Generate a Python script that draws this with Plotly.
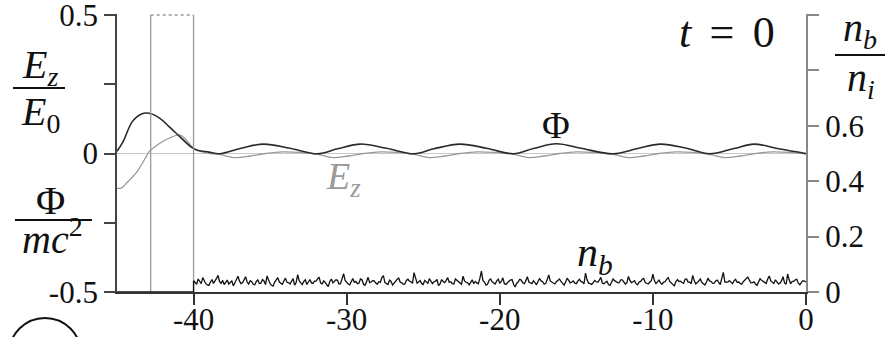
import numpy as np
import plotly.graph_objects as go

# ---- data -------------------------------------------------------------
# electrostatic potential Phi / mc^2 along the box (left axis)
phi_x = [-45.0, -44.6, -44.0, -43.4, -42.9, -42.2, -41.6, -40.9, -40.2, -39.8,
         -39.0, -38.3, -36.9, -35.4, -33.7, -31.9, -30.6, -29.1, -27.4, -25.6,
         -24.3, -22.6, -20.8, -19.1, -17.8, -16.3, -14.7, -12.6, -11.0, -9.5,
         -7.8, -6.3, -4.7, -3.4, -1.7, 0.0]
phi = [0.008, 0.043, 0.115, 0.143, 0.145, 0.127, 0.097, 0.061, 0.025, 0.013,
       0.005, -0.001, 0.019, 0.034, 0.019, -0.001, 0.017, 0.034, 0.019, -0.001,
       0.017, 0.034, 0.018, -0.001, 0.018, 0.035, 0.019, -0.001, 0.018, 0.034,
       0.019, -0.001, 0.018, 0.034, 0.016, 0.000]

# longitudinal field E_z / E_0 (left axis)
ez_x = [-45.0, -44.7, -44.4, -43.7, -43.1, -42.9, -42.2, -41.6, -40.9, -40.5,
        -40.0, -39.5, -38.9,
        -38.3, -37.3, -36.3, -35.3, -34.2, -33.1,
        -31.9, -30.9, -29.9, -28.9, -27.8, -26.7,
        -25.6, -24.6, -23.6, -22.6, -21.5, -20.4,
        -19.1, -18.1, -17.1, -16.1, -15.0, -13.9,
        -12.6, -11.6, -10.6, -9.6, -8.5, -7.4,
        -6.3, -5.3, -4.3, -3.3, -2.2, -1.1, 0.0]
ez = [-0.126, -0.124, -0.108, -0.066, -0.012, 0.007, 0.037, 0.055, 0.067, 0.050,
      0.019, 0.007, 0.000,
      -0.003, -0.015, -0.009, 0.000, 0.006, 0.004,
      -0.003, -0.015, -0.009, 0.000, 0.006, 0.004,
      -0.003, -0.015, -0.009, 0.000, 0.006, 0.004,
      -0.003, -0.015, -0.009, 0.000, 0.006, 0.004,
      -0.003, -0.015, -0.009, 0.000, 0.006, 0.004,
      -0.003, -0.015, -0.009, 0.000, 0.006, 0.004, -0.002]

# beam density n_b / n_i (right axis): empty ahead of x = -40, noisy plateau behind
nb_front_x = [-45.0, -40.0]
nb_front = [0.0, 0.0]
nb_noise = [
    0.041, 0.033, 0.028, 0.047, 0.036, 0.030, 0.052, 0.039, 0.030, 0.026, 0.024, 0.035, 0.045, 0.031, 0.038, 0.049, 0.060, 0.037, 0.031, 0.042,
    0.027, 0.034, 0.043, 0.029, 0.035, 0.040, 0.022, 0.033, 0.048, 0.057, 0.039, 0.030, 0.033, 0.046, 0.055, 0.036, 0.029, 0.041, 0.037, 0.028,
    0.026, 0.038, 0.044, 0.031, 0.032, 0.045, 0.040, 0.027, 0.058, 0.043, 0.030, 0.024, 0.021, 0.036, 0.046, 0.052, 0.036, 0.031, 0.028, 0.040,
    0.050, 0.035, 0.034, 0.029, 0.041, 0.048, 0.025, 0.034, 0.063, 0.041, 0.033, 0.027, 0.038, 0.044, 0.027, 0.036, 0.045, 0.033, 0.031, 0.039,
    0.039, 0.047, 0.054, 0.032, 0.029, 0.040, 0.035, 0.026, 0.020, 0.038, 0.047, 0.033, 0.037, 0.044, 0.042, 0.029, 0.030, 0.051, 0.066, 0.042,
    0.034, 0.029, 0.026, 0.040, 0.049, 0.035, 0.038, 0.030, 0.032, 0.047, 0.044, 0.028, 0.024, 0.037, 0.053, 0.034, 0.036, 0.041, 0.040, 0.032,
    0.028, 0.037, 0.035, 0.052, 0.059, 0.034, 0.031, 0.027, 0.043, 0.038, 0.025, 0.033, 0.038, 0.046, 0.050, 0.035, 0.033, 0.028, 0.029, 0.042,
    0.046, 0.039, 0.037, 0.031, 0.070, 0.048, 0.032, 0.036, 0.041, 0.030, 0.027, 0.042, 0.036, 0.031, 0.048, 0.040, 0.030, 0.037, 0.039, 0.045,
    0.023, 0.029, 0.045, 0.038, 0.034, 0.042, 0.052, 0.035, 0.037, 0.030, 0.029, 0.047, 0.042, 0.036, 0.031, 0.028, 0.057, 0.040, 0.035, 0.033,
    0.026, 0.035, 0.044, 0.030, 0.038, 0.033, 0.030, 0.049, 0.075, 0.041, 0.036, 0.025, 0.028, 0.042, 0.047, 0.037, 0.033, 0.029, 0.040, 0.046,
    0.032, 0.038, 0.051, 0.030, 0.027, 0.034, 0.039, 0.043, 0.045, 0.028, 0.018, 0.031, 0.036, 0.046, 0.043, 0.033, 0.030, 0.041, 0.055, 0.036,
    0.034, 0.030, 0.041, 0.035, 0.026, 0.039, 0.048, 0.040, 0.037, 0.028, 0.031, 0.045, 0.062, 0.039, 0.035, 0.031, 0.029, 0.037, 0.044, 0.047,
    0.038, 0.031, 0.025, 0.036, 0.050, 0.042, 0.033, 0.036, 0.040, 0.032, 0.030, 0.039, 0.046, 0.038, 0.036, 0.029, 0.068, 0.044, 0.032, 0.030,
    0.027, 0.034, 0.042, 0.037, 0.035, 0.043, 0.053, 0.032, 0.030, 0.034, 0.039, 0.027, 0.024, 0.035, 0.047, 0.041, 0.037, 0.034, 0.033, 0.044,
    0.044, 0.037, 0.029, 0.033, 0.056, 0.042, 0.034, 0.037, 0.041, 0.030, 0.026, 0.036, 0.038, 0.046, 0.049, 0.034, 0.031, 0.029, 0.036, 0.041,
    0.064, 0.041, 0.030, 0.036, 0.043, 0.033, 0.028, 0.036, 0.037, 0.046, 0.052, 0.038, 0.033, 0.028, 0.022, 0.037, 0.045, 0.038, 0.039, 0.034,
    0.031, 0.046, 0.047, 0.036, 0.036, 0.030, 0.060, 0.041, 0.029, 0.034, 0.040, 0.047, 0.034, 0.030, 0.025, 0.036, 0.050, 0.040, 0.038, 0.031,
    0.032, 0.040, 0.043, 0.035, 0.027, 0.049, 0.071, 0.036, 0.035, 0.036, 0.041, 0.034, 0.030, 0.040, 0.046, 0.035, 0.036, 0.031, 0.028, 0.037,
    0.042, 0.048, 0.054, 0.043, 0.033, 0.034, 0.037, 0.029, 0.024, 0.036, 0.048, 0.042, 0.039, 0.033, 0.031, 0.047, 0.058, 0.040, 0.035, 0.031,
    0.044, 0.037, 0.029, 0.032, 0.040, 0.055, 0.033, 0.028, 0.065, 0.044, 0.030, 0.038, 0.038, 0.044, 0.046, 0.032, 0.026, 0.035, 0.041, 0.039,
    0.036,
]
nb_noise_x = np.linspace(-40.0, 0.0, len(nb_noise))

# driver window edges and height (right axis)
box_x = [-42.8, -40.0]
box_top = 1.0

# axis ticks
x_ticks = [-40, -30, -20, -10, 0]
x_ticktext = ["-40", "-30", "-20", "-10", "0"]
yl_ticks = [-0.5, -0.25, 0, 0.25, 0.5]
yl_ticktext = ["-0.5", " ", "0", " ", "0.5"]
yr_ticks = [0, 0.2, 0.4, 0.6, 0.8, 1.0]
yr_ticktext = ["0", "0.2", "0.4", "0.6", " ", " "]

SERIF = "Liberation Serif"
GREY = "#9a9a9a"
INK = "#111111"

fig = go.Figure()

# driver window: two vertical edges plus a dotted top
for bx in box_x:
    fig.add_trace(go.Scatter(x=[bx, bx], y=[0, box_top], yaxis="y2", mode="lines",
                             line=dict(color=GREY, width=1.3), hoverinfo="skip"))
fig.add_trace(go.Scatter(x=box_x, y=[box_top, box_top], yaxis="y2", mode="lines",
                         line=dict(color=GREY, width=1.3, dash="dot"), hoverinfo="skip"))

# beam density
fig.add_trace(go.Scatter(x=nb_front_x + list(nb_noise_x), y=nb_front + nb_noise,
                         yaxis="y2", mode="lines",
                         line=dict(color=INK, width=1.3), hoverinfo="skip"))

# E_z and Phi
fig.add_trace(go.Scatter(x=ez_x, y=ez, mode="lines", line_shape="spline",
                         line=dict(color=GREY, width=1.3), hoverinfo="skip"))
fig.add_trace(go.Scatter(x=phi_x, y=phi, mode="lines", line_shape="spline",
                         line=dict(color="#2a2a2a", width=1.6), hoverinfo="skip"))

tickfont = dict(family=SERIF, size=31, color=INK)

# plot area: 117..806 px wide, 14..292 px tall
fig.update_layout(
    width=889, height=337,
    margin=dict(l=117, r=83, t=14, b=45, autoexpand=False),
    paper_bgcolor="white", plot_bgcolor="white",
    showlegend=False,
    xaxis=dict(range=[-45, 0], showgrid=False, zeroline=False, automargin=False,
               showline=True, linecolor="#333333", linewidth=1.6,
               ticks="outside", ticklen=11, tickwidth=1.6, tickcolor="#333333",
               ticklabeloverflow="allow", ticklabelstandoff=-12,
               tickvals=x_ticks, ticktext=x_ticktext, tickfont=tickfont),
    yaxis=dict(range=[-0.5, 0.5036], showgrid=False, automargin=False,
               zeroline=True, zerolinecolor="#c8c8c8", zerolinewidth=1,
               showline=True, linecolor="#444444", linewidth=1.8,
               ticks="outside", ticklen=11, tickwidth=1.8, tickcolor="#444444",
               ticklabeloverflow="allow",
               tickvals=yl_ticks, ticktext=yl_ticktext, tickfont=tickfont),
    yaxis2=dict(range=[0, 1.0036], overlaying="y", side="right", showgrid=False,
                automargin=False,
                zeroline=False, showline=True, linecolor="#888888", linewidth=2,
                ticks="outside", ticklen=11, tickwidth=1.8, tickcolor="#888888",
                ticklabeloverflow="allow",
                tickvals=yr_ticks, ticktext=yr_ticktext, tickfont=tickfont),
)

# ---- labels -----------------------------------------------------------
def paper_x(px):
    return (px - 117) / 689.0


def paper_y(py):
    return (292 - py) / 278.0


big = dict(family=SERIF, size=40, color=INK)

def label(text, px, py, font=big):
    fig.add_annotation(x=paper_x(px), y=paper_y(py), xref="paper", yref="paper",
                       text=text, showarrow=False, font=font,
                       xanchor="center", yanchor="middle")


def bar(px0, px1, py):
    fig.add_shape(type="line", xref="paper", yref="paper",
                  x0=paper_x(px0), x1=paper_x(px1), y0=paper_y(py), y1=paper_y(py),
                  line=dict(color=INK, width=2))

# E_z / E_0
label("<i>E</i><sub><i>z</i></sub>", 40, 67)
bar(13, 65, 88)
label("<i>E</i><sub>0</sub>", 40, 114)

# Phi / mc^2
label("Φ", 50, 200)
bar(15, 92, 220)
label("<i>mc</i><sup>2</sup>", 52, 236)

# n_b / n_i
label("<i>n</i><sub><i>b</i></sub>", 860, 30)
bar(835, 885, 55)
label("<i>n</i><sub><i>i</i></sub>", 861, 80)

# time stamp
label("<i>t</i>\u2006 = \u20060", 727, 32, dict(family=SERIF, size=44, color=INK))

# curve names
fig.add_annotation(x=-16.3, y=0.102, text="Φ", showarrow=False,
                   font=dict(family=SERIF, size=38, color=INK))
fig.add_annotation(x=-30.2, y=-0.092, text="<i>E</i><sub><i>z</i></sub>", showarrow=False,
                   font=dict(family=SERIF, size=38, color=GREY))
fig.add_annotation(x=-13.8, y=-0.366, text="<i>n</i><sub><i>b</i></sub>", showarrow=False,
                   font=dict(family=SERIF, size=42, color=INK))

# panel badge in the lower-left corner
fig.add_shape(type="circle", xref="paper", yref="paper",
              x0=paper_x(9), x1=paper_x(81), y0=paper_y(390), y1=paper_y(318),
              line=dict(color=INK, width=2))
label("c", 43, 344, dict(family=SERIF, size=36, color=INK))

fig.write_html("out.html")
